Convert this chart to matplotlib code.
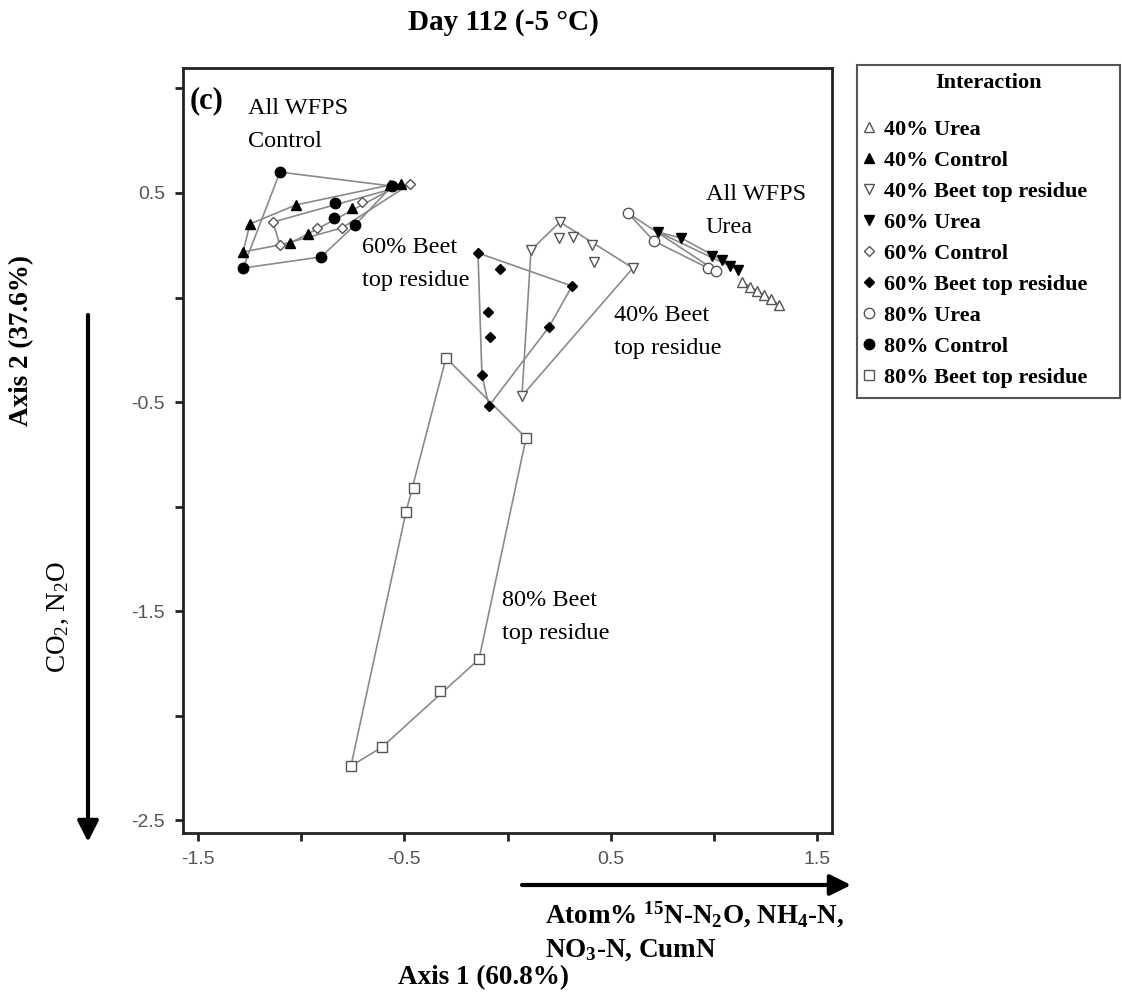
import numpy as np
import matplotlib
matplotlib.use('Agg')
import matplotlib.pyplot as plt
from matplotlib.lines import Line2D
from matplotlib.patches import Rectangle, FancyArrowPatch

plt.rcParams['mathtext.default'] = 'regular'

# ordination scores (Axis 1, Axis 2)
urea40_x = [1.137, 1.175, 1.209, 1.243, 1.277, 1.316]
urea40_y = [0.074, 0.050, 0.031, 0.012, -0.007, -0.036]
control40_x = [-1.248, -1.282, -1.025, -1.054, -0.967, -0.754, -0.570, -0.516]
control40_y = [0.352, 0.218, 0.443, 0.261, 0.304, 0.428, 0.538, 0.543]
beet40_x = [0.254, 0.250, 0.317, 0.410, 0.419, 0.608, 0.114, 0.070]
beet40_y = [0.361, 0.285, 0.289, 0.251, 0.170, 0.141, 0.227, -0.471]
urea60_x = [0.730, 0.841, 0.991, 1.040, 1.078, 1.117]
urea60_y = [0.313, 0.285, 0.199, 0.179, 0.151, 0.132]
control60_x = [-0.473, -0.705, -0.923, -1.137, -1.103, -0.802]
control60_y = [0.543, 0.457, 0.333, 0.361, 0.251, 0.333]
beet60_x = [-0.143, -0.036, 0.313, -0.095, -0.085, 0.201, -0.124, -0.090]
beet60_y = [0.213, 0.136, 0.055, -0.069, -0.189, -0.141, -0.371, -0.519]
urea80_x = [0.584, 0.710, 0.972, 1.011]
urea80_y = [0.404, 0.270, 0.141, 0.127]
control80_x = [-1.103, -1.282, -0.904, -0.739, -0.836, -0.841, -0.560]
control80_y = [0.600, 0.141, 0.194, 0.347, 0.452, 0.380, 0.533]
beet80_x = [-0.298, 0.090, -0.453, -0.492, -0.138, -0.327, -0.608, -0.759]
beet80_y = [-0.289, -0.672, -0.911, -1.026, -1.730, -1.883, -2.151, -2.242]

labels = ['40% Urea', '40% Control', '40% Beet top residue',
          '60% Urea', '60% Control', '60% Beet top residue',
          '80% Urea', '80% Control', '80% Beet top residue']
xs = [urea40_x, control40_x, beet40_x, urea60_x, control60_x, beet60_x,
      urea80_x, control80_x, beet80_x]
ys = [urea40_y, control40_y, beet40_y, urea60_y, control60_y, beet60_y,
      urea80_y, control80_y, beet80_y]

xticks = [-1.5, -1.0, -0.5, 0.0, 0.5, 1.0, 1.5]
xticklabels = ['-1.5', '', '-0.5', '', '0.5', '', '1.5']
yticks = [1.0, 0.5, 0.0, -0.5, -1.0, -1.5, -2.0, -2.5]
yticklabels = ['', '0.5', '', '-0.5', '', '-1.5', '', '-2.5']

# marker, filled?, size
styles = [('^', False, 7.5), ('^', True, 7.5), ('v', False, 7.5),
          ('v', True, 7.5), ('D', False, 5.5), ('D', True, 5.5),
          ('o', False, 7.5), ('o', True, 7.5), ('s', False, 7.5)]

SERIF = ['Liberation Serif', 'DejaVu Serif']
SANS = ['Liberation Sans', 'DejaVu Sans']


def convex_hull(px, py):
    pts = sorted(set(zip(px, py)))
    if len(pts) < 3:
        return pts + pts[:1]

    def cross(o, a, b):
        return (a[0] - o[0]) * (b[1] - o[1]) - (a[1] - o[1]) * (b[0] - o[0])

    lower, upper = [], []
    for p in pts:
        while len(lower) >= 2 and cross(lower[-2], lower[-1], p) <= 0:
            lower.pop()
        lower.append(p)
    for p in reversed(pts):
        while len(upper) >= 2 and cross(upper[-2], upper[-1], p) <= 0:
            upper.pop()
        upper.append(p)
    h = lower[:-1] + upper[:-1]
    return h + h[:1]


W, H = 1122, 994


def fpos(x, y):
    return x / W, 1 - y / H


fig = plt.figure(figsize=(11.22, 9.94), dpi=100)
ax = fig.add_axes([183 / W, 1 - 833 / H, (832 - 183) / W, (833 - 68) / H])

for x, y in zip(xs, ys):
    h = convex_hull(x, y)
    ax.plot([p[0] for p in h], [p[1] for p in h], color='#8a8a8a', lw=1.2, zorder=1)

handles = []
for x, y, lab, (m, filled, ms) in zip(xs, ys, labels, styles):
    fc = 'black' if filled else 'white'
    ec = 'black' if filled else '#555555'
    ax.plot(x, y, ls='none', marker=m, ms=ms, mfc=fc, mec=ec, mew=1.0, zorder=3)
    handles.append(Line2D([], [], ls='none', marker=m, ms=ms, mfc=fc, mec=ec, mew=1.0, label=lab))

ax.set_xlim(-1.573, 1.573)
ax.set_ylim(-2.562, 1.098)
ax.set_xticks(xticks, xticklabels)
ax.set_yticks(yticks, yticklabels)
for s in ax.spines.values():
    s.set_linewidth(2.0)
    s.set_color('#222222')
ax.tick_params(direction='out', length=6, width=2, color='#222222', labelcolor='#555555',
               labelsize=14, pad=7)
for t in ax.get_xticklabels() + ax.get_yticklabels():
    t.set_family(SANS)

# annotations inside the plot
txt = dict(family=SERIF, fontsize=17.5, va='top', ha='left', linespacing=1.75)
ax.text(-1.542, 1.01, '(c)', family=SERIF, fontsize=22, fontweight='bold', va='top')
ax.text(-1.258, 0.955, 'All WFPS\nControl', **txt)
ax.text(0.962, 0.541, 'All WFPS\nUrea', **txt)
ax.text(-0.705, 0.291, '60% Beet\ntop residue', **txt)
ax.text(0.516, -0.035, '40% Beet\ntop residue', **txt)
ax.text(-0.027, -1.399, '80% Beet\ntop residue', **txt)

# title and axis captions
fig.text(*fpos(503, 22), 'Day 112 (-5 °C)', family=SERIF, fontsize=21, fontweight='bold',
         ha='center', va='center')
fig.text(*fpos(22, 340), 'Axis 2 (37.6%)', family=SERIF, fontsize=19.5, fontweight='bold',
         rotation=90, ha='center', va='center')
fig.text(*fpos(58, 617), 'CO$_2$, N$_2$O', family=SERIF, fontsize=19.5,
         rotation=90, ha='center', va='center')
fig.text(*fpos(545, 915), 'Atom% $^{15}$N-N$_2$O, NH$_4$-N,', family=SERIF, fontsize=19.5,
         fontweight='bold', ha='left', va='center')
fig.text(*fpos(545, 950), 'NO$_3$-N, CumN', family=SERIF, fontsize=19.5,
         fontweight='bold', ha='left', va='center')
fig.text(*fpos(484, 978), 'Axis 1 (60.8%)', family=SERIF, fontsize=19.5, fontweight='bold',
         ha='center', va='center')

arrow = dict(arrowstyle='-|>,head_length=0.9,head_width=0.45', color='black', lw=3,
             shrinkA=0, shrinkB=0, mutation_scale=14, transform=fig.transFigure)
fig.patches.append(FancyArrowPatch(fpos(88, 315), fpos(88, 842), **arrow))
fig.patches.append(FancyArrowPatch(fpos(522, 885), fpos(851, 885), **arrow))

# legend box
x0, y0 = fpos(857, 398)
x1, y1 = fpos(1120, 65)
fig.patches.append(Rectangle((x0, y0), x1 - x0, y1 - y0, transform=fig.transFigure,
                             fill=False, ec='#555555', lw=1.5))
fig.text(*fpos(988, 83), 'Interaction', family=SERIF, fontsize=16, fontweight='bold',
         ha='center', va='center')
leg = fig.legend(handles=handles, loc='upper left', bbox_to_anchor=fpos(860, 119),
                 frameon=False, handlelength=0.8, handletextpad=0.3, labelspacing=0.47,
                 borderaxespad=0, borderpad=0,
                 prop={'family': SERIF, 'size': 16, 'weight': 'bold'})

fig.savefig('out.png', dpi=100)
